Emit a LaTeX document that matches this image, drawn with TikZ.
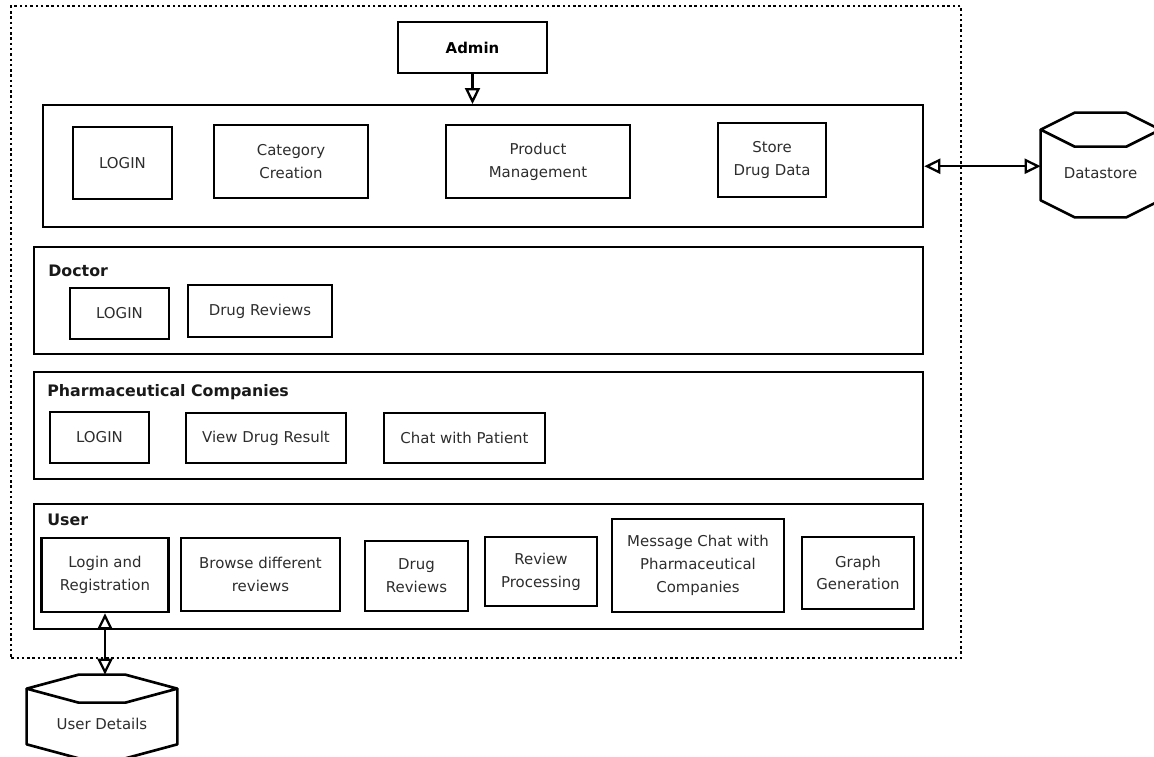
\documentclass[tikz,border=0pt]{standalone}
\usepackage{fontspec}
\setmainfont{DejaVu Sans}
\usepackage{tikz}
\usetikzlibrary{arrows.meta, calc}
\definecolor{textGrey}{RGB}{45, 45, 45}
\newcommand{\lLogin}{LOGIN}
\newcommand{\lDrugReviews}{Drug Reviews}
\newcommand{\lDatastore}{Datastore}
\newcommand{\lUserDetails}{User Details}
% drum outline round a named node: #1 node, #2 slant, #3 cap
\newcommand{\drawDrum}[3]{
    \draw[drum edge] ($ (#1.north west) + (0, -#3) $) -- ($ (#1.north west) + (#2, -2*#3) $) -- ($ (#1.north east) + (-#2, -2*#3) $) -- ($ (#1.north east) + (0, -#3) $) -- ($ (#1.north east) + (-#2, 0) $) -- ($ (#1.north west) + (#2, 0) $) -- cycle;
    \draw[drum edge] ($ (#1.north west) + (0, -#3) $) -- (#1.south west) -- ($ (#1.south west) + (#2, #3) $) -- ($ (#1.south east) + (-#2, #3) $) -- (#1.south east) -- ($ (#1.north east) + (0, -#3) $);
}

\begin{document}
\begin{tikzpicture}[
        x=0.02cm, y=-0.02cm,
        font=\fontsize{8.5}{13}\selectfont,
        system/.style={draw, line width=1.4pt, dash pattern=on 1.4pt off 1.6pt, anchor=north west, minimum width=19cm, minimum height=13.04cm},
        panel/.style={draw, line width=1.4pt, anchor=north west, minimum width=17.78cm, minimum height=2.14cm},
        panel label/.style={anchor=west, inner sep=0pt, font=\fontsize{9}{11}\selectfont\bfseries, text=black!90},
        role/.style={draw, line width=1.5pt, minimum width=2.98cm, minimum height=1.02cm, font=\fontsize{8.5}{11}\selectfont\bfseries},
        module/.style={draw, line width=1.5pt, align=center, text=textGrey},
        drum/.style={align=center, text=textGrey},
        drum edge/.style={line width=1.5pt, line join=round},
        open tip/.style={line width=1.3pt, -{Triangle[open, length=0.32cm, width=0.3cm]}},
        open tips/.style={line width=1.3pt, {Triangle[open, length=0.32cm, width=0.3cm]}-{Triangle[open, length=0.32cm, width=0.3cm]}},
    ]

    \path[use as bounding box, fill=white] (0,0) rectangle (1154,757);
    \clip (0,0) rectangle (1154,757);

    \path (10,5) node[system] (system) {};

    \path (472.5,47.5) node[role] (admin) {Admin};

    % admin panel
    \path (42,104) node[panel, minimum width=17.6cm, minimum height=2.44cm] (admin panel) {};
    \path (122.5,163) node[module, minimum width=1.98cm, minimum height=1.44cm] (admin login) {\lLogin};
    \path (291,161.5) node[module, minimum width=3.08cm, minimum height=1.46cm] (category) {Category\\Creation};
    \path (538,161.5) node[module, minimum width=3.68cm, minimum height=1.46cm] (product) {Product\\Management};
    \path (772,160) node[module, minimum width=2.16cm, minimum height=1.48cm] (store) {Store\\Drug Data};

    % doctor panel
    \path (33,246) node[panel] (doctor panel) {};
    \path (doctor panel.north west) ++(15,25) node[panel label] (doctor label) {Doctor};
    \path (119.5,313.5) node[module, minimum width=1.98cm, minimum height=1.02cm] (doctor login) {\lLogin};
    \path (260,311) node[module, minimum width=2.88cm, minimum height=1.04cm] (doctor reviews) {\lDrugReviews};

    % pharmaceutical companies panel
    \path (33,371) node[panel] (pharma panel) {};
    \path (pharma panel.north west) ++(14,21) node[panel label] (pharma label) {Pharmaceutical Companies};
    \path (99.5,437.5) node[module, minimum width=1.98cm, minimum height=1.02cm] (pharma login) {\lLogin};
    \path (266,438) node[module, minimum width=3.2cm, minimum height=1cm] (drug result) {View Drug Result};
    \path (464.5,438) node[module, minimum width=3.22cm, minimum height=1cm] (patient chat) {Chat with Patient};

    % user panel
    \path (33,503) node[panel, minimum height=2.5cm] (user panel) {};
    \path (user panel.north west) ++(14,17) node[panel label] (user label) {User};
    \path (105,575) node[module, minimum width=2.54cm, minimum height=1.48cm] (registration) {Login and\\Registration};
    \path (260.5,574.5) node[module, minimum width=3.18cm, minimum height=1.46cm] (browse) {Browse different\\reviews};
    \path (416.5,576) node[module, minimum width=2.06cm, minimum height=1.4cm] (user reviews) {Drug\\Reviews};
    \path (541,571.5) node[module, minimum width=2.24cm, minimum height=1.38cm] (processing) {Review\\Processing};
    \path (698,565.5) node[module, minimum width=3.44cm, minimum height=1.86cm] (message chat) {Message Chat with\\Pharmaceutical\\Companies};
    \path (858,573) node[module, minimum width=2.24cm, minimum height=1.44cm] (graph) {Graph\\Generation};

    % stores
    \path (1100.5,173.5) node[drum, minimum width=2.38cm, minimum height=1.06cm] (datastore) {\lDatastore};
    \drawDrum{datastore}{34}{17}
    \path (102,723.5) node[drum, minimum width=3cm, minimum height=0.82cm] (user details) {\lUserDetails};
    \drawDrum{user details}{52}{14}
    \coordinate (user details top) at ($ (user details.north) + (0, -28) $);

    \draw[open tip] (admin.south) -- (admin.south |- admin panel.north);
    \draw[open tips] (admin panel.east) -- (admin panel.east -| datastore.west);
    \draw[open tips] (registration.south) -- (registration.south |- user details top);

\end{tikzpicture}
\end{document}
